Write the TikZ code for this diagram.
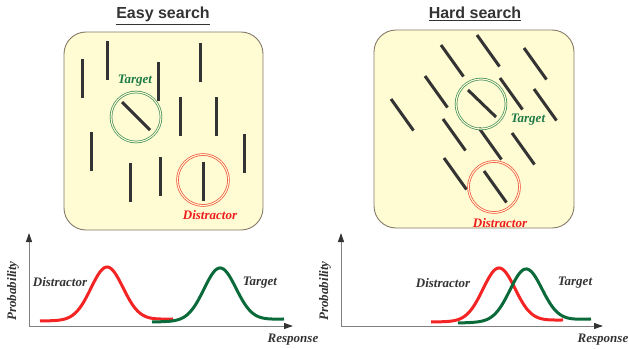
\documentclass[tikz,border=0pt]{standalone}
\usepackage{fontspec}
\setmainfont{Liberation Serif}
\newfontfamily\headfont{Liberation Sans}
\usetikzlibrary{arrows.meta}

\definecolor{paper}{HTML}{FFFBD2}
\definecolor{rim}{HTML}{857A6A}
\definecolor{ink}{HTML}{333333}
\definecolor{tgreen}{HTML}{1E7A48}
\definecolor{ringgreen}{HTML}{3C8C5C}
\definecolor{dred}{HTML}{EE1C1C}
\definecolor{ringred}{HTML}{F04A38}
\definecolor{cgreen}{HTML}{0B6A3A}
\definecolor{cred}{HTML}{F42424}

\begin{document}
\begin{tikzpicture}[x=1pt, y=-1pt,
    panel/.style={draw=rim, fill=paper, line width=0.9pt, rounded corners=22pt},
    bar/.style={draw=ink, line width=3pt},
    ring/.style={line width=0.7pt, double=paper, double distance=1.1pt},
    tag/.style={font=\fontsize{13}{15}\selectfont\bfseries\itshape, inner sep=0pt},
    heading/.style={font=\headfont\fontsize{16}{18}\selectfont\bfseries, text=ink, inner sep=0pt},
    axisline/.style={draw=gray, line width=1pt, -{Triangle[width=6pt, length=9pt, color=ink]}},
    curve/.style={line width=3pt}]
    \useasboundingbox (0,0) rectangle (629,348);

    % Titles
    \node[heading, anchor=base] (easyhead) at (163,19) {\underline{Easy search}};
    \node[heading, anchor=base] (hardhead) at (475,19) {\underline{Hard search}};

    % Panels
    \draw[panel] (64,32) rectangle (263,230);
    \draw[panel] (374,30) rectangle (574,228);

    % Easy search: vertical bars
    \foreach \x/\y in {82/59, 107/41, 158/62, 200/43, 180/97, 216/97,
                       91/132, 130/163, 160/157, 244/134, 203/162}
    {
        \draw[bar] (\x,\y) -- ++(0,39);
    }
    % the odd one out
    \draw[bar] (122,102) -- (150,130);

    % Hard search: tilted bars
    \foreach \x/\y in {441/45, 477/35, 524/48, 425/76, 500/78, 534/89,
                       391/99, 443/119, 479/128, 512/133, 444/158, 484/171}
    {
        \draw[bar] (\x,\y) -- ++(22.5,31.5);
    }
    \draw[bar] (468,90) -- (496,117);

    % Rings round target and distractor
    \draw[ring, draw=ringgreen] (136,117) circle (25);
    \draw[ring, draw=ringred] (203,180) circle (25.5);
    \draw[ring, draw=ringgreen] (481,104) circle (25);
    \draw[ring, draw=ringred] (494,187) circle (25.5);

    \node[tag, text=tgreen] (easytarget) at (135,81) {Target};
    \node[tag, text=dred] (easydistr) at (210,215) {Distractor};
    \node[tag, text=tgreen] (hardtarget) at (528,120) {Target};
    \node[tag, text=dred] (harddistr) at (500,223) {Distractor};

    % Axes
    \coordinate (O1) at (29,326);
    \coordinate (O2) at (341,326);
    \draw[axisline] (O1) -- (29,233);
    \draw[axisline] (O1) -- (293,326);
    \draw[axisline] (O2) -- (341,233);
    \draw[axisline] (O2) -- (603,326);

    \node[tag, text=ink, rotate=90] (probeasy) at (13,291) {Probability};
    \node[tag, text=ink, rotate=90] (probhard) at (325,291) {Probability};
    \node[tag, text=ink] (respeasy) at (293,340) {Response};
    \node[tag, text=ink] (resphard) at (603,340) {Response};

    % Response curves, easy search
    \draw[curve, cred] plot[domain=40:173, samples=90, smooth]
        (\x, {321-2*(\x-40)/133-53*exp(-((\x-107)^2)/512)});
    \draw[curve, cgreen] plot[domain=152:284, samples=90, smooth]
        (\x, {322-3*(\x-152)/132-52.5*exp(-((\x-220)^2)/512)});
    \node[tag, text=ink] (curveeasyd) at (60,282) {Distractor};
    \node[tag, text=ink] (curveeasyt) at (260,283) {Target};

    % Response curves, hard search
    \draw[curve, cred] plot[domain=431:563, samples=90, smooth]
        (\x, {322-2*(\x-431)/132-53*exp(-((\x-499)^2)/512)});
    \draw[curve, cgreen] plot[domain=458:591, samples=90, smooth]
        (\x, {323-4*(\x-458)/133-52*exp(-((\x-526)^2)/512)});
    \node[tag, text=ink] (curveharddd) at (443,283) {Distractor};
    \node[tag, text=ink] (curvehardt) at (575,283) {Target};
\end{tikzpicture}
\end{document}
